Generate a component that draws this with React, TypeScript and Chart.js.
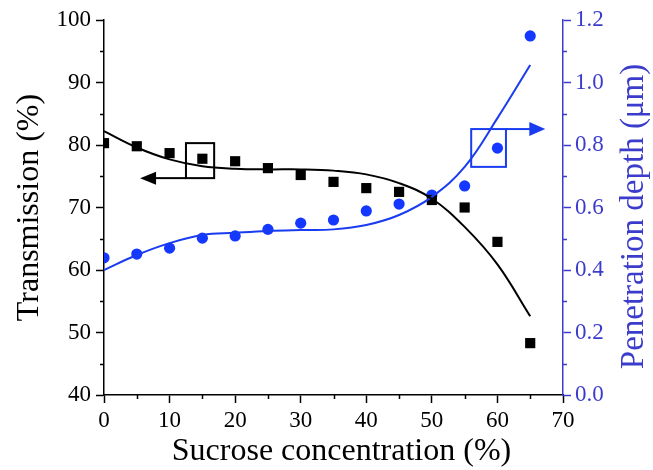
import React, { useEffect, useRef } from 'react';
import { Chart, registerables } from 'chart.js';

Chart.register(...registerables);

// Data
const concentration = [0, 5, 10, 15, 20, 25, 30, 35, 40, 45, 50, 55, 60, 65];
const transmission = [80.3, 79.8, 78.7, 77.8, 77.4, 76.3, 75.2, 74.1, 73.1, 72.5, 71.2, 70.0, 64.5, 48.3];
const penetration = [0.439, 0.451, 0.470, 0.502, 0.509, 0.530, 0.550, 0.560, 0.589, 0.611, 0.640, 0.669, 0.790, 1.149];
const transmissionFit = [82.2, 79.6, 77.7, 76.6, 76.2, 76.1, 76.1, 75.9, 75.3, 73.9, 71.4, 66.9, 60.9, 52.6];
const penetrationFit = [0.400, 0.448, 0.486, 0.512, 0.519, 0.525, 0.528, 0.530, 0.544, 0.576, 0.634, 0.730, 0.886, 1.056];

const xMinorTicks = [5, 15, 25, 35, 45, 55, 65];
const yMinorTicks = [45, 55, 65, 75, 85, 95];
const y1MinorTicks = [0.1, 0.3, 0.5, 0.7, 0.9, 1.1];

// Annotation boxes in data coordinates: [xMin, xMax, yMin, yMax]
const transmissionBox = [12.5, 16.8, 74.7, 80.3];
const transmissionArrowTip = 5.5;
const penetrationBox = [56.0, 61.3, 0.730, 0.851];
const penetrationArrowTip = 67.3;

const BLACK = '#000000';
const BLUE_POINT = '#1438ff';
const BLUE_LINE = '#1a3cf0';
const BLUE_AXIS = '#3c3ccc';
const SERIF = "'Liberation Serif', 'Times New Roman', serif";

const decorPlugin = {
  id: 'decor',
  afterDraw(chart: any) {
    const { ctx, chartArea } = chart;
    const x = chart.scales.x;
    const y = chart.scales.y;
    const y1 = chart.scales.y1;
    ctx.save();
    ctx.lineWidth = 1.5;
    // minor ticks
    ctx.strokeStyle = BLACK;
    ctx.beginPath();
    for (const v of xMinorTicks) {
      const px = Math.round(x.getPixelForValue(v)) + 0.5;
      ctx.moveTo(px, chartArea.bottom);
      ctx.lineTo(px, chartArea.bottom + 4);
    }
    for (const v of yMinorTicks) {
      const py = Math.round(y.getPixelForValue(v)) + 0.5;
      ctx.moveTo(chartArea.left, py);
      ctx.lineTo(chartArea.left - 4, py);
    }
    ctx.stroke();
    ctx.strokeStyle = BLUE_AXIS;
    ctx.beginPath();
    for (const v of y1MinorTicks) {
      const py = Math.round(y1.getPixelForValue(v)) + 0.5;
      ctx.moveTo(chartArea.right, py);
      ctx.lineTo(chartArea.right + 4, py);
    }
    ctx.stroke();

    // black annotation box + arrow to the left
    ctx.lineWidth = 2;
    ctx.strokeStyle = BLACK;
    ctx.fillStyle = BLACK;
    {
      const l = x.getPixelForValue(transmissionBox[0]);
      const r = x.getPixelForValue(transmissionBox[1]);
      const b = y.getPixelForValue(transmissionBox[2]);
      const t = y.getPixelForValue(transmissionBox[3]);
      ctx.strokeRect(l, t, r - l, b - t);
      const tip = x.getPixelForValue(transmissionArrowTip);
      ctx.beginPath();
      ctx.moveTo(l, b);
      ctx.lineTo(tip + 14, b);
      ctx.stroke();
      ctx.beginPath();
      ctx.moveTo(tip, b);
      ctx.lineTo(tip + 16, b - 6.5);
      ctx.lineTo(tip + 16, b + 6.5);
      ctx.closePath();
      ctx.fill();
    }
    // blue annotation box + arrow to the right
    ctx.strokeStyle = BLUE_LINE;
    ctx.fillStyle = BLUE_LINE;
    {
      const l = x.getPixelForValue(penetrationBox[0]);
      const r = x.getPixelForValue(penetrationBox[1]);
      const b = y1.getPixelForValue(penetrationBox[2]);
      const t = y1.getPixelForValue(penetrationBox[3]);
      ctx.strokeRect(l, t, r - l, b - t);
      const tip = x.getPixelForValue(penetrationArrowTip);
      ctx.beginPath();
      ctx.moveTo(r, t);
      ctx.lineTo(tip - 14, t);
      ctx.stroke();
      ctx.beginPath();
      ctx.moveTo(tip, t);
      ctx.lineTo(tip - 16, t - 7);
      ctx.lineTo(tip - 16, t + 7);
      ctx.closePath();
      ctx.fill();
    }

    // bottom axis title
    ctx.fillStyle = BLACK;
    ctx.font = `32px ${SERIF}`;
    ctx.textAlign = 'center';
    ctx.textBaseline = 'middle';
    ctx.fillText('Sucrose concentration (%)', (chartArea.left + chartArea.right) / 2 + 8, chart.height - 18);

    // right axis title, rotated bottom-to-top
    ctx.fillStyle = BLUE_AXIS;
    ctx.font = `33px ${SERIF}`;
    ctx.translate(chart.width - 19, (chartArea.top + chartArea.bottom) / 2 + 9);
    ctx.rotate(-Math.PI / 2);
    ctx.fillText('Penetration depth (\u03bcm)', 0, 0);
    ctx.restore();
  },
};

export default function App() {
  const canvasRef = useRef<HTMLCanvasElement | null>(null);

  useEffect(() => {
    if (!canvasRef.current) return;
    const pts = (ys: number[]) => concentration.map((c, i) => ({ x: c, y: ys[i] }));
    const tickFont = { family: SERIF, size: 23 };
    const chart = new Chart(canvasRef.current, {
      type: 'scatter',
      data: {
        datasets: [
          {
            label: 'Transmission fit',
            data: pts(transmissionFit),
            yAxisID: 'y',
            showLine: true,
            borderColor: BLACK,
            borderWidth: 2,
            pointRadius: 0,
            tension: 0.4,
          },
          {
            label: 'Penetration fit',
            data: pts(penetrationFit),
            yAxisID: 'y1',
            showLine: true,
            borderColor: BLUE_LINE,
            borderWidth: 2,
            pointRadius: 0,
            tension: 0.4,
          },
          {
            label: 'Transmission',
            data: pts(transmission),
            yAxisID: 'y',
            pointStyle: 'rect',
            pointRadius: 7.2,
            backgroundColor: BLACK,
            borderColor: BLACK,
            borderWidth: 0,
          },
          {
            label: 'Penetration depth',
            data: pts(penetration),
            yAxisID: 'y1',
            pointStyle: 'circle',
            pointRadius: 5.6,
            backgroundColor: BLUE_POINT,
            borderColor: BLUE_POINT,
            borderWidth: 0,
          },
        ],
      } as any,
      options: {
        animation: false,
        responsive: false,
        layout: { padding: { top: 20, left: 0, right: 0, bottom: 0 } },
        plugins: { legend: { display: false }, tooltip: { enabled: false } },
        scales: {
          x: {
            type: 'linear',
            position: 'bottom',
            min: 0,
            max: 70,
            ticks: { stepSize: 10, color: BLACK, font: tickFont, padding: 4, maxRotation: 0 },
            grid: { drawOnChartArea: false, tickLength: 8, tickColor: BLACK, tickWidth: 1.5 },
            border: { color: BLACK, width: 1.5 },
            afterFit: (s: any) => { s.height = 75; },
          },
          y: {
            type: 'linear',
            position: 'left',
            min: 40,
            max: 100,
            ticks: { stepSize: 10, color: BLACK, font: tickFont, padding: 5 },
            grid: { drawOnChartArea: false, tickLength: 8, tickColor: BLACK, tickWidth: 1.5 },
            border: { color: BLACK, width: 1.5 },
            title: {
              display: true,
              text: 'Transmission (%)',
              color: BLACK,
              font: { family: SERIF, size: 32 },
              padding: { top: 10, bottom: 0 },
            },
            afterFit: (s: any) => { s.width = 104; },
          },
          y1: {
            type: 'linear',
            position: 'right',
            min: 0,
            max: 1.2,
            ticks: {
              stepSize: 0.2,
              color: BLUE_AXIS,
              font: tickFont,
              padding: 4,
              callback: (v: any) => Number(v).toFixed(1),
            },
            grid: { drawOnChartArea: false, tickLength: 8, tickColor: BLUE_AXIS, tickWidth: 1.5 },
            border: { color: BLUE_AXIS, width: 1.5 },
            afterFit: (s: any) => { s.width = 90; },
          },
        },
      } as any,
      plugins: [decorPlugin],
    });
    return () => chart.destroy();
  }, []);

  return (
    <div style={{ position: 'absolute', left: 0, top: 0, width: 653, height: 470, background: '#fff' }}>
      <canvas ref={canvasRef} width={653} height={470} style={{ display: 'block' }} />
    </div>
  );
}
